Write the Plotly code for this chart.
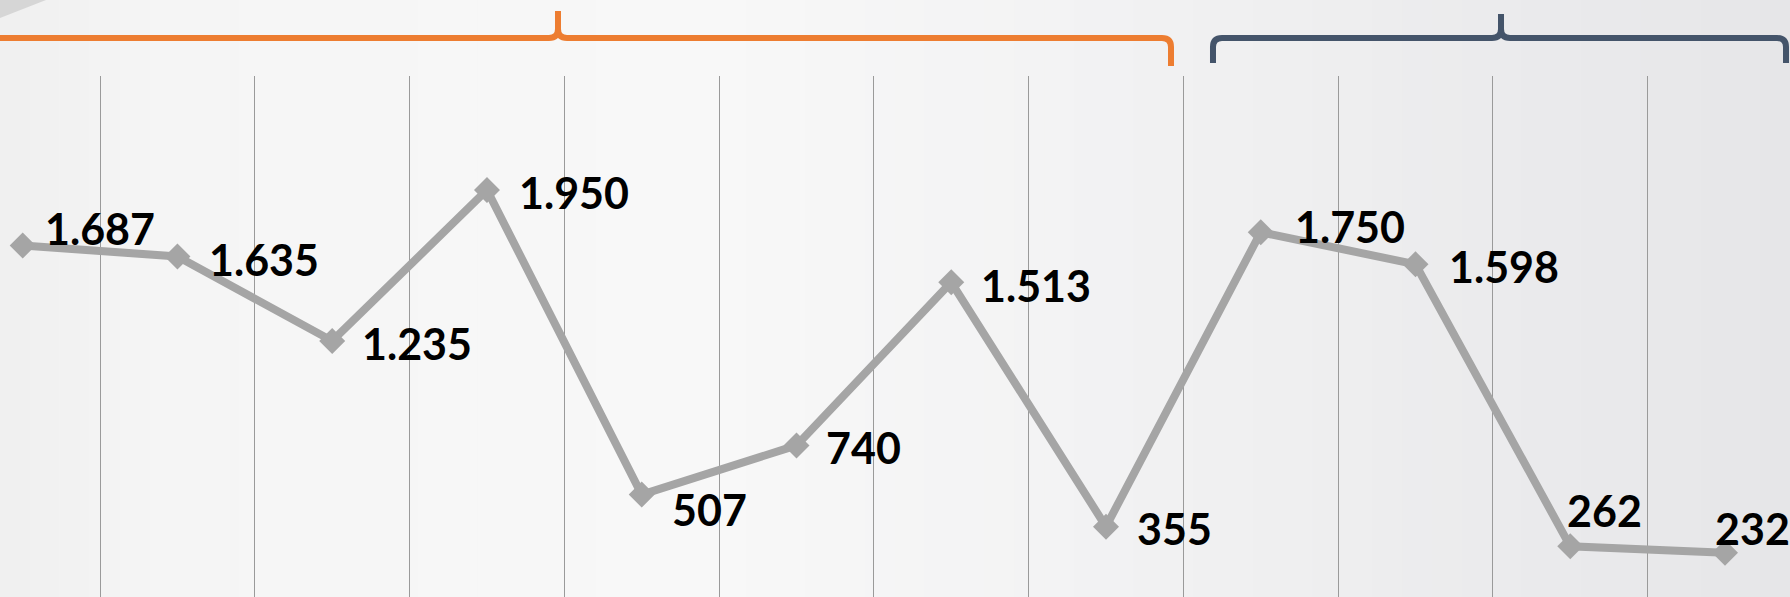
import plotly.graph_objects as go

# ---- data ----
categories = ["1", "2", "3", "4", "5", "6", "7", "8", "9", "10", "11", "12"]
values = [1687, 1635, 1235, 1950, 507, 740, 1513, 355, 1750, 1598, 262, 232]
# label offsets (px): right shift, up shift
label_dx = [20, 30, 28, 30, 28, 28, 28, 29, 32, 32, -5, -12]
label_dy = [17, -3, -3, -2, -15, -2, -3, -2, 6, -2, 36, 24]

W, H, TOP = 1790, 597, 76
LINE_GRAY = "#a5a5a5"
ORANGE = "#ED7D31"
NAVY = "#44546A"


def fmt(v):
    return f"{v:,}".replace(",", ".")


def px(x, y):
    # pixel -> paper coords
    return f"{x / W:.5f},{(H - y) / (H - TOP):.5f}"


def path(cmds):
    out = []
    for c in cmds:
        op = c[0]
        pts = c[1:]
        out.append(op + " " + " ".join(px(*p) for p in pts))
    return " ".join(out)


fig = go.Figure()
fig.add_trace(go.Scatter(
    x=categories, y=values, mode="lines+markers",
    line=dict(color=LINE_GRAY, width=8),
    marker=dict(symbol="diamond", size=20, color=LINE_GRAY),
    cliponaxis=False, hoverinfo="skip", showlegend=False,
))

for i, (v, dx, dy) in enumerate(zip(values, label_dx, label_dy)):
    fig.add_annotation(
        x=i, y=v, xref="x", yref="y", text=fmt(v), showarrow=False,
        xanchor="left", yanchor="middle", xshift=dx, yshift=dy,
        font=dict(family="Lato", size=43, color="#000000", weight="bold"),
    )

shapes = []
# background gradient strips
stops = [(0, (0xef, 0xef, 0xef)), (150, (0xf5, 0xf5, 0xf5)), (700, (0xf8, 0xf8, 0xf8)),
         (1100, (0xf2, 0xf2, 0xf3)), (1790, (0xe6, 0xe6, 0xe8))]


def col_at(x):
    for (x0, c0), (x1, c1) in zip(stops[:-1], stops[1:]):
        if x0 <= x <= x1:
            t = (x - x0) / (x1 - x0)
            return "rgb(%d,%d,%d)" % tuple(round(a + (b - a) * t) for a, b in zip(c0, c1))
    return "rgb(230,230,232)"


N = 60
for k in range(N):
    x0 = k * W / N
    x1 = (k + 1) * W / N + 1
    shapes.append(dict(type="rect", xref="paper", yref="paper",
                       x0=x0 / W, x1=min(x1, W + 2) / W, y0=-0.01, y1=H / (H - TOP) + 0.01,
                       fillcolor=col_at((x0 + x1) / 2), line=dict(width=0), layer="below"))
# corner triangle
shapes.append(dict(type="path", xref="paper", yref="paper",
                   path=path([("M", (0, 0)), ("L", (46, 0)), ("L", (0, 18))]) + " Z",
                   fillcolor="#d6d6d6", line=dict(width=0), layer="below"))
# orange brace
shapes.append(dict(type="path", xref="paper", yref="paper",
                   path=path([("M", (-5, 38)), ("L", (549, 38)), ("Q", (558, 38), (558, 29)),
                              ("L", (558, 11)), ("M", (558, 29)), ("Q", (558, 38), (567, 38)),
                              ("L", (1162, 38)), ("Q", (1171, 38), (1171, 47)), ("L", (1171, 66))]),
                   line=dict(color=ORANGE, width=6)))
# navy brace
shapes.append(dict(type="path", xref="paper", yref="paper",
                   path=path([("M", (1213, 63)), ("L", (1213, 47)), ("Q", (1213, 38), (1222, 38)),
                              ("L", (1492, 38)), ("Q", (1501, 38), (1501, 29)), ("L", (1501, 14)),
                              ("M", (1501, 29)), ("Q", (1501, 38), (1510, 38)),
                              ("L", (1777, 38)), ("Q", (1786, 38), (1786, 47)), ("L", (1786, 63))]),
                   line=dict(color=NAVY, width=6)))

fig.update_layout(
    width=W, height=H,
    margin=dict(l=0, r=0, t=TOP, b=0, pad=0),
    paper_bgcolor="#f4f4f4", plot_bgcolor="rgba(0,0,0,0)",
    shapes=shapes,
    xaxis=dict(type="category", range=[-0.1467, 11.42], tickson="boundaries",
               showgrid=True, gridcolor="#9a9a9a", gridwidth=1,
               showticklabels=False, ticks="", zeroline=False, showline=False, fixedrange=True),
    yaxis=dict(range=[22, 2490], showgrid=False, showticklabels=False, ticks="",
               zeroline=False, showline=False, fixedrange=True),
)

fig.write_html("out.html", config=dict(displayModeBar=False),
               post_script="document.body.style.margin='0';document.body.style.overflow='hidden';")
